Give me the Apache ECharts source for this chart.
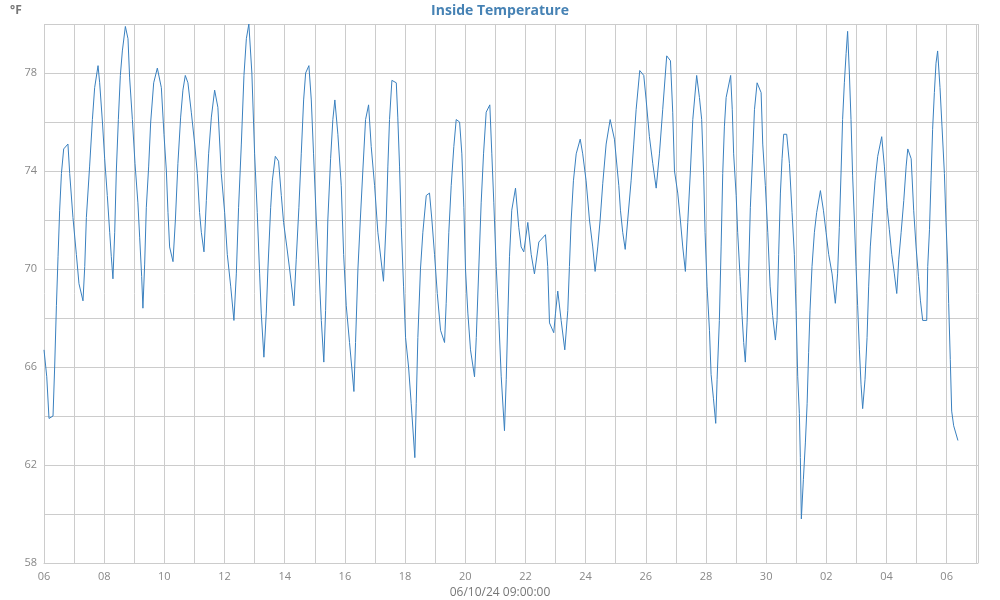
<!DOCTYPE html>
<html>
<head>
<meta charset="utf-8">
<script src="https://cdn.jsdelivr.net/npm/echarts@6/dist/echarts.min.js"></script>
<style>html,body{margin:0;padding:0;background:#fff}#c{width:1000px;height:600px}</style>
</head>
<body>
<div id="c"></div>
<script>
// Start of the x axis: 2024-09-06 00:00
var startYear = 2024, startMonth = 8, startDay = 6;
var axisEndHours = 745;
var xAxisTitle = '06/10/24 09:00:00';
var chartTitle = 'Inside Temperature';
var unitLabel = '°F';

// hours since start of axis
var hours = [0,2.2,4.0,7.2,8.5,9.9,11.2,12.5,13.9,15.7,19.1,20.5,23.1,25.8,27.9,31.1,32.5,33.8,36.4,38.6,40.4,43.1,44.4,46.6,48.4,50.5,52.4,53.7,55.0,56.4,57.7,59.3,60.9,62.5,64.9,67.0,68.3,70.5,72.6,74.9,76.3,77.9,78.9,80.3,81.6,83.5,85.1,87.5,90.4,93.6,95.7,97.6,98.9,100.2,102.9,104.8,106.8,109.0,110.8,112.7,114.8,117.5,120.2,122.3,124.1,125.5,127.6,129.5,131.3,133.5,136.1,138.7,141.4,144.1,146.2,148.9,151.5,153.4,155.2,157.4,159.5,161.4,163.4,165.8,168.0,170.1,172.0,173.3,175.4,177.3,178.6,180.8,182.1,184.5,187.1,189.3,191.1,193.7,195.9,199.3,201.2,203.3,205.2,207.1,208.7,211.3,213.2,215.0,217.2,219.3,221.2,223.2,224.6,226.4,228.6,230.4,232.0,234.4,237.1,239.0,241.1,243.7,247.2,248.5,250.4,252.3,254.3,256.5,258.9,261.0,263.7,266.3,270.8,273.0,274.3,275.6,277.5,281.0,282.2,283.6,285.0,286.8,288.4,290.8,292.9,295.8,296.9,298.2,300.3,302.2,304.9,307.5,309.4,311.5,313.7,316.3,319.5,320.8,322.9,324.8,326.9,328.8,331.5,333.3,334.9,336.2,338.1,340.2,343.4,344.8,346.8,348.7,350.6,352.7,355.6,357.2,358.8,360.7,362.8,364.7,367.3,368.7,370.0,371.3,373.1,376.1,378.7,380.6,382.7,385.9,388.6,391.2,394.7,400.0,401.8,403.2,406.6,408.0,409.8,412.5,415.4,417.8,419.1,420.5,422.3,424.5,427.7,429.7,432.4,435.1,437.7,439.6,441.7,443.6,445.7,448.4,451.6,455.0,458.5,459.8,461.6,463.6,465.6,468.3,470.4,472.3,475.2,478.4,480.3,482.9,485.6,488.3,490.9,493.5,496.7,499.7,501.5,502.9,505.5,507.6,509.5,511.6,513.5,515.6,517.5,520.6,522.8,524.6,526.2,527.3,528.9,530.8,532.1,534.0,535.8,536.9,538.7,540.1,541.4,542.7,544.1,547.7,549.0,550.1,552.1,553.3,555.2,556.8,558.1,559.4,560.8,562.1,563.4,565.3,566.7,568.8,572.0,573.3,575.4,577.3,579.2,581.2,583.4,584.7,586.0,587.4,588.7,590.0,592.4,594.6,596.7,598.5,599.9,601.2,602.5,603.3,604.1,605.7,607.3,608.7,609.9,611.0,612.6,614.5,616.3,619.3,621.7,623.8,625.9,628.6,631.2,633.0,634.4,635.8,637.0,638.4,639.8,641.0,642.4,643.7,645.0,646.4,647.7,649.0,650.4,651.7,653.0,654.9,656.5,657.8,659.1,661.0,662.9,665.0,668.2,670.3,672.5,674.3,676.2,678.3,680.2,681.8,683.7,685.8,687.7,689.0,691.7,693.7,695.6,697.5,699.1,700.9,704.1,704.9,706.3,707.5,708.8,710.2,711.5,712.8,714.7,716.3,718.2,719.5,720.8,721.6,722.9,724.0,725.6,729.0];

// inside temperature, °F
var temps = [66.7,65.6,63.9,64.0,66.0,68.5,70.5,72.4,73.9,74.9,75.1,73.9,72.1,70.6,69.4,68.7,70.1,72.1,74.2,76.1,77.4,78.3,77.6,76.0,74.5,73.0,71.5,70.5,69.6,71.5,74.0,76.1,77.9,78.9,79.9,79.4,77.8,76.1,74.3,72.7,71.3,69.7,68.4,70.2,72.5,74.2,76.0,77.6,78.2,77.4,75.5,74.0,72.3,70.9,70.3,72.0,74.3,76.2,77.3,77.9,77.6,76.4,75.1,73.9,72.3,71.5,70.7,72.8,74.7,76.2,77.3,76.6,73.9,72.3,70.6,69.3,67.9,69.8,72.5,75.1,77.9,79.4,80.0,78.0,74.7,72.3,69.8,68.2,66.4,68.2,70.0,72.5,73.6,74.6,74.4,73.0,71.9,70.9,70.0,68.5,70.4,72.5,74.7,76.9,78.0,78.3,76.9,74.7,72.0,70.0,67.9,66.2,68.3,72.0,74.5,76.1,76.9,75.5,73.4,70.6,68.5,67.0,65.0,67.0,70.0,72.0,74.0,76.1,76.7,75.0,73.4,71.5,69.5,72.0,74.2,76.1,77.7,77.6,76.2,74.2,71.7,69.3,67.2,66.0,64.5,62.3,64.5,67.2,70.0,71.5,73.0,73.1,72.0,70.6,69.0,67.5,67.0,68.6,71.5,73.4,75.0,76.1,76.0,74.7,72.5,70.0,68.2,66.7,65.6,67.2,70.0,72.7,74.7,76.4,76.7,74.7,72.7,70.1,67.9,65.6,63.4,65.5,68.1,70.5,72.4,73.3,71.7,70.9,70.7,71.9,70.6,69.8,71.1,71.4,70.1,67.8,67.4,68.2,69.1,67.9,66.7,68.3,70.1,72.0,73.6,74.7,75.3,74.7,73.6,72.0,70.9,69.9,70.9,72.0,73.5,75.1,76.1,75.3,73.4,72.4,71.5,70.8,72.0,73.6,75.1,76.5,78.1,77.9,76.9,75.4,74.3,73.3,74.7,76.5,78.7,78.5,76.4,74.0,73.1,72.0,70.9,69.9,71.9,74.0,76.1,77.9,77.0,76.1,73.8,71.5,69.3,67.5,65.7,64.7,63.7,65.5,67.9,70.9,73.9,75.8,77.0,77.9,76.5,74.7,73.0,71.5,69.7,68.1,67.0,66.2,67.8,70.0,72.5,74.7,76.5,77.6,77.2,75.1,73.4,71.5,69.3,68.1,67.1,67.9,70.6,73.1,74.5,75.5,75.5,74.3,72.3,70.6,68.3,65.6,64.1,62.3,59.8,61.4,62.9,64.5,66.6,68.3,70.1,71.5,72.3,73.2,72.4,71.5,70.6,69.8,68.6,69.8,71.7,74.0,76.1,77.6,78.8,79.7,78.0,76.1,73.8,72.0,70.1,68.5,66.7,65.3,64.3,65.5,67.2,69.3,70.9,72.3,73.6,74.6,75.4,74.2,72.5,71.6,70.6,69.8,69.0,70.4,71.5,72.8,74.2,74.9,74.5,72.4,70.9,69.7,68.7,67.9,67.9,70.1,71.6,73.6,75.7,77.2,78.4,78.9,77.4,75.8,73.9,71.9,70.2,68.6,66.3,64.2,63.6,63.0];

var yMin = 58, yMax = 80, yInterval = 2, yLabelStep = 4;

var startMs = new Date(startYear, startMonth, startDay, 0, 0, 0).getTime();
var seriesData = hours.map(function (h, i) { return [h, temps[i]]; });

function pad(n) { return (n < 10 ? '0' : '') + n; }

var chart = echarts.init(document.getElementById('c'), null, { renderer: 'canvas' });
chart.setOption({
  animation: false,
  backgroundColor: '#ffffff',
  title: [
    { text: chartTitle, left: 'center', top: -1,
      textStyle: { color: '#4682b4', fontSize: 14, fontWeight: 'bold', fontFamily: 'Open Sans' } },
    { text: unitLabel, left: 5, top: 0,
      textStyle: { color: '#777777', fontSize: 12, fontWeight: 'bold', fontFamily: 'Open Sans' } },
    { text: xAxisTitle, left: 'center', top: 582,
      textStyle: { color: '#777777', fontSize: 12, fontWeight: 'normal', fontFamily: 'Open Sans' } }
  ],
  grid: { left: 44, right: 22, top: 24, bottom: 37, containLabel: false, outerBoundsMode: 'none' },
  xAxis: {
    type: 'value',
    min: 0, max: axisEndHours, interval: 24,
    axisLine: { show: true, lineStyle: { color: '#cccccc' } },
    axisTick: { show: false },
    splitLine: { show: true, lineStyle: { color: '#cccccc', width: 1 } },
    axisLabel: {
      color: '#888888', fontSize: 11, fontFamily: 'Open Sans', margin: 8, showMaxLabel: false,
      formatter: function (v) {
        if (v % 48 !== 0) return '';
        var d = new Date(startMs + v * 3600000);
        return pad(d.getDate());
      }
    }
  },
  yAxis: {
    type: 'value',
    min: yMin, max: yMax, interval: yInterval,
    axisLine: { show: false },
    axisTick: { show: false },
    splitLine: { show: true, lineStyle: { color: '#cccccc', width: 1 } },
    axisLabel: {
      color: '#888888', fontSize: 11, fontFamily: 'Open Sans', margin: 7,
      formatter: function (v) { return ((v - yMin) % yLabelStep === 0) ? String(v) : ''; }
    }
  },
  series: [{
    type: 'line',
    data: seriesData,
    showSymbol: false,
    symbol: 'none',
    lineStyle: { color: '#3a80bf', width: 1 },
    itemStyle: { color: '#3a80bf' }
  }]
});
</script>
</body>
</html>
